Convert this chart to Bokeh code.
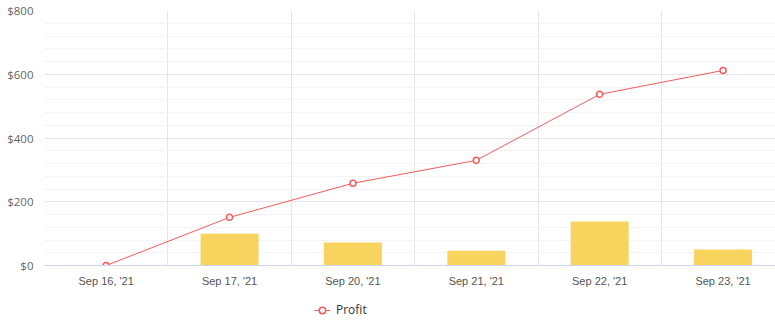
from bokeh.plotting import figure
from bokeh.layouts import column
from bokeh.models import (FixedTicker, Legend, LegendItem, ColumnDataSource, Range1d)
from bokeh.embed import file_html
from bokeh.resources import INLINE

categories = ["Sep 16, '21", "Sep 17, '21", "Sep 20, '21", "Sep 21, '21", "Sep 22, '21", "Sep 23, '21"]
profit = [0, 151, 258, 330, 537, 612]
bars = [0, 100, 72, 46, 138, 50]
y_ticks = [0, 200, 400, 600, 800]
y_labels = ["$0", "$200", "$400", "$600", "$800"]

xs = [i + 0.5 for i in range(len(categories))]
src = ColumnDataSource(dict(x=xs, profit=profit, bars=bars))

LINE_COLOR = "#f45b5b"

p = figure(width=775, height=292, output_backend="svg", toolbar_location=None,
           x_range=(0, 5.925), y_range=(0, 800),
           min_border_left=44, min_border_right=0, min_border_top=10, min_border_bottom=27)
p.outline_line_color = None
p.background_fill_color = "white"

# bars
p.vbar(x="x", top="bars", width=0.47, source=src, fill_color="#f8d35e", line_color=None)

# line
p.line(x="x", y="profit", source=src, line_color=LINE_COLOR, line_width=1)
p.scatter(x="x", y="profit", source=src, size=6, marker="circle",
          fill_color="white", line_color=LINE_COLOR, line_width=1.5)

# x axis
p.xaxis.ticker = FixedTicker(ticks=xs)
p.xaxis.major_label_overrides = {x: c for x, c in zip(xs, categories)}
p.xaxis.major_tick_line_color = None
p.xaxis.minor_tick_line_color = None
p.xaxis.axis_line_color = "#ccd6eb"
p.xaxis.major_label_text_font = "Liberation Sans"
p.xaxis.major_label_text_font_size = "11px"
p.xaxis.major_label_text_color = "#555555"
p.xaxis.major_label_standoff = 3

# y axis
p.yaxis.ticker = FixedTicker(ticks=y_ticks, minor_ticks=list(range(0, 801, 40)))
p.yaxis.major_label_overrides = {t: l for t, l in zip(y_ticks, y_labels)}
p.yaxis.major_tick_line_color = None
p.yaxis.minor_tick_line_color = None
p.yaxis.axis_line_color = None
p.yaxis.major_label_text_font = "Open Sans"
p.yaxis.major_label_text_font_size = "11.5px"
p.yaxis.major_label_text_color = "#666666"
p.yaxis.major_label_standoff = 5

# grids
p.xgrid.ticker = FixedTicker(ticks=[0, 1, 2, 3, 4, 5])
p.xgrid.grid_line_color = "#e6e6e6"
p.ygrid.grid_line_color = "#e6e6e6"
p.ygrid.minor_grid_line_color = "#f4f4f4"

# legend strip
p2 = figure(width=775, height=35, output_backend="svg", toolbar_location=None,
            x_range=Range1d(0, 1), y_range=Range1d(0, 1),
            x_axis_location=None, y_axis_location=None,
            min_border_left=0, min_border_right=0, min_border_top=0, min_border_bottom=0)
p2.outline_line_color = None
p2.xgrid.visible = False
p2.ygrid.visible = False
lsrc = ColumnDataSource(dict(x=[-5], y=[-5]))
ln = p2.line(x="x", y="y", source=lsrc, line_color=LINE_COLOR, line_width=1)
sc = p2.scatter(x="x", y="y", source=lsrc, size=6, marker="circle",
                fill_color="white", line_color=LINE_COLOR, line_width=1.5)

legend = Legend(items=[LegendItem(label="Profit", renderers=[ln, sc])],
                location=(270, 9), orientation="horizontal",
                label_text_font="Open Sans", label_text_font_size="12px",
                label_text_color="#333333", border_line_color=None,
                background_fill_alpha=0, glyph_width=16, glyph_height=16,
                label_standoff=6, padding=4, margin=0, spacing=0)
p2.add_layout(legend, "center")

layout = column(p, p2, spacing=0)
open("out.html", "w").write(file_html(layout, INLINE))
